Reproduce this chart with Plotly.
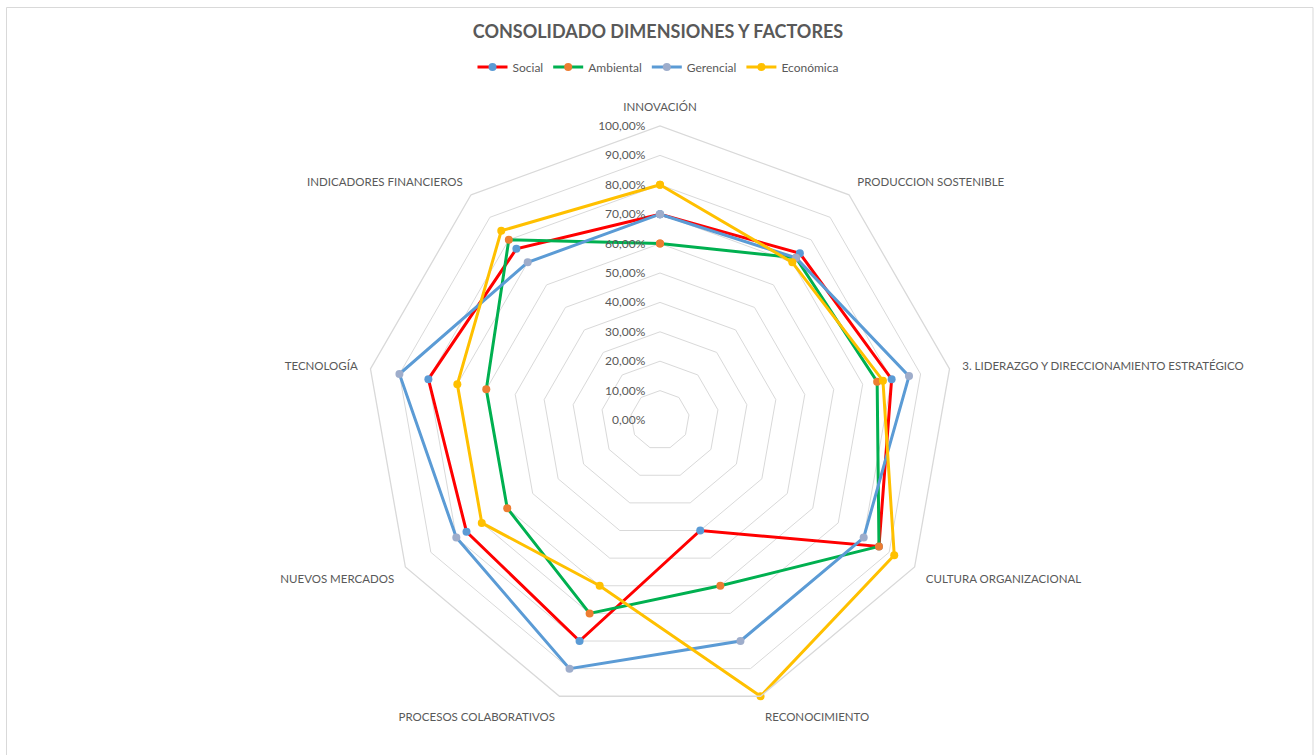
import plotly.graph_objects as go

CATEGORIES = ["INNOVACIÓN", "PRODUCCION SOSTENIBLE",
              "3. LIDERAZGO Y DIRECCIONAMIENTO ESTRATÉGICO", "CULTURA ORGANIZACIONAL",
              "RECONOCIMIENTO", "PROCESOS COLABORATIVOS", "NUEVOS MERCADOS",
              "TECNOLOGÍA", "INDICADORES FINANCIEROS"]

SOCIAL = [0.70, 0.74, 0.80, 0.86, 0.40, 0.80, 0.76, 0.80, 0.76]
AMBIENTAL = [0.60, 0.72, 0.75, 0.86, 0.60, 0.70, 0.60, 0.60, 0.80]
GERENCIAL = [0.70, 0.72, 0.86, 0.80, 0.80, 0.90, 0.80, 0.90, 0.70]
ECONOMICA = [0.80, 0.70, 0.77, 0.92, 1.00, 0.60, 0.70, 0.70, 0.84]

SERIES = [
    ("Social", SOCIAL, "#FF0000", "#5B9BD5"),
    ("Ambiental", AMBIENTAL, "#00B050", "#ED7D31"),
    ("Gerencial", GERENCIAL, "#5B9BD5", "#9EADCB"),
    ("Económica", ECONOMICA, "#FFC000", "#FFC000"),
]

FONT = "Lato, Open Sans, sans-serif"
GRID = "#d9d9d9"
TEXT = "#595959"

W, H = 1316, 755
# centre du radar (660, 420), rayon 294 px
cx, cy, R = 660, 420, 294

fig = go.Figure()
for name, vals, line_col, mark_col in SERIES:
    # on referme le polygone en répétant le premier point
    fig.add_trace(go.Scatterpolar(
        r=vals + vals[:1], theta=CATEGORIES + CATEGORIES[:1],
        mode="lines+markers", name=name,
        line=dict(color=line_col, width=3),
        marker=dict(color=mark_col, size=8),
        hovertemplate="%{theta}: %{r:.2%}<extra>" + name + "</extra>"))

fig.update_layout(
    width=W, height=H,
    margin=dict(l=0, r=0, t=0, b=0),
    paper_bgcolor="white",
    separators=",.",
    font=dict(family=FONT, size=12, color=TEXT),
    title=dict(text="<b>CONSOLIDADO DIMENSIONES Y FACTORES</b>",
               x=0.5, xanchor="center", y=1 - 32 / H, yanchor="middle",
               font=dict(family=FONT, size=18, color=TEXT)),
    legend=dict(orientation="h", x=0.5, xanchor="center", y=1 - 67 / H, yanchor="middle",
                font=dict(family=FONT, size=12, color=TEXT), itemwidth=30,
                bgcolor="rgba(0,0,0,0)"),
    polar=dict(
        domain=dict(x=[(cx - R) / W, (cx + R) / W],
                    y=[(H - cy - R) / H, (H - cy + R) / H]),
        bgcolor="white",
        gridshape="linear",
        # étiquettes radiales horizontales, à gauche de l'axe vertical
        radialaxis=dict(range=[0, 1], dtick=0.1, tickformat=".2%",
                        angle=90, tickangle=90, side="counterclockwise", showline=False,
                        ticks="outside", ticklen=10, tickcolor="rgba(0,0,0,0)",
                        gridcolor=GRID, gridwidth=1.3,
                        tickfont=dict(family=FONT, size=12, color=TEXT)),
        angularaxis=dict(rotation=90, direction="clockwise", showgrid=False,
                         showline=True, linecolor=GRID, linewidth=1.3,
                         ticks="outside", ticklen=10, tickcolor="rgba(0,0,0,0)",
                         tickfont=dict(family=FONT, size=11.5, color=TEXT)),
    ),
    shapes=[dict(type="rect", xref="paper", yref="paper",
                 x0=6.5 / W, x1=1313 / W, y0=-0.02, y1=1 - 7.5 / H,
                 line=dict(color=GRID, width=1))],
)

fig.write_html("out.html", config={"displayModeBar": False},
               post_script="document.body.style.margin='0';")
